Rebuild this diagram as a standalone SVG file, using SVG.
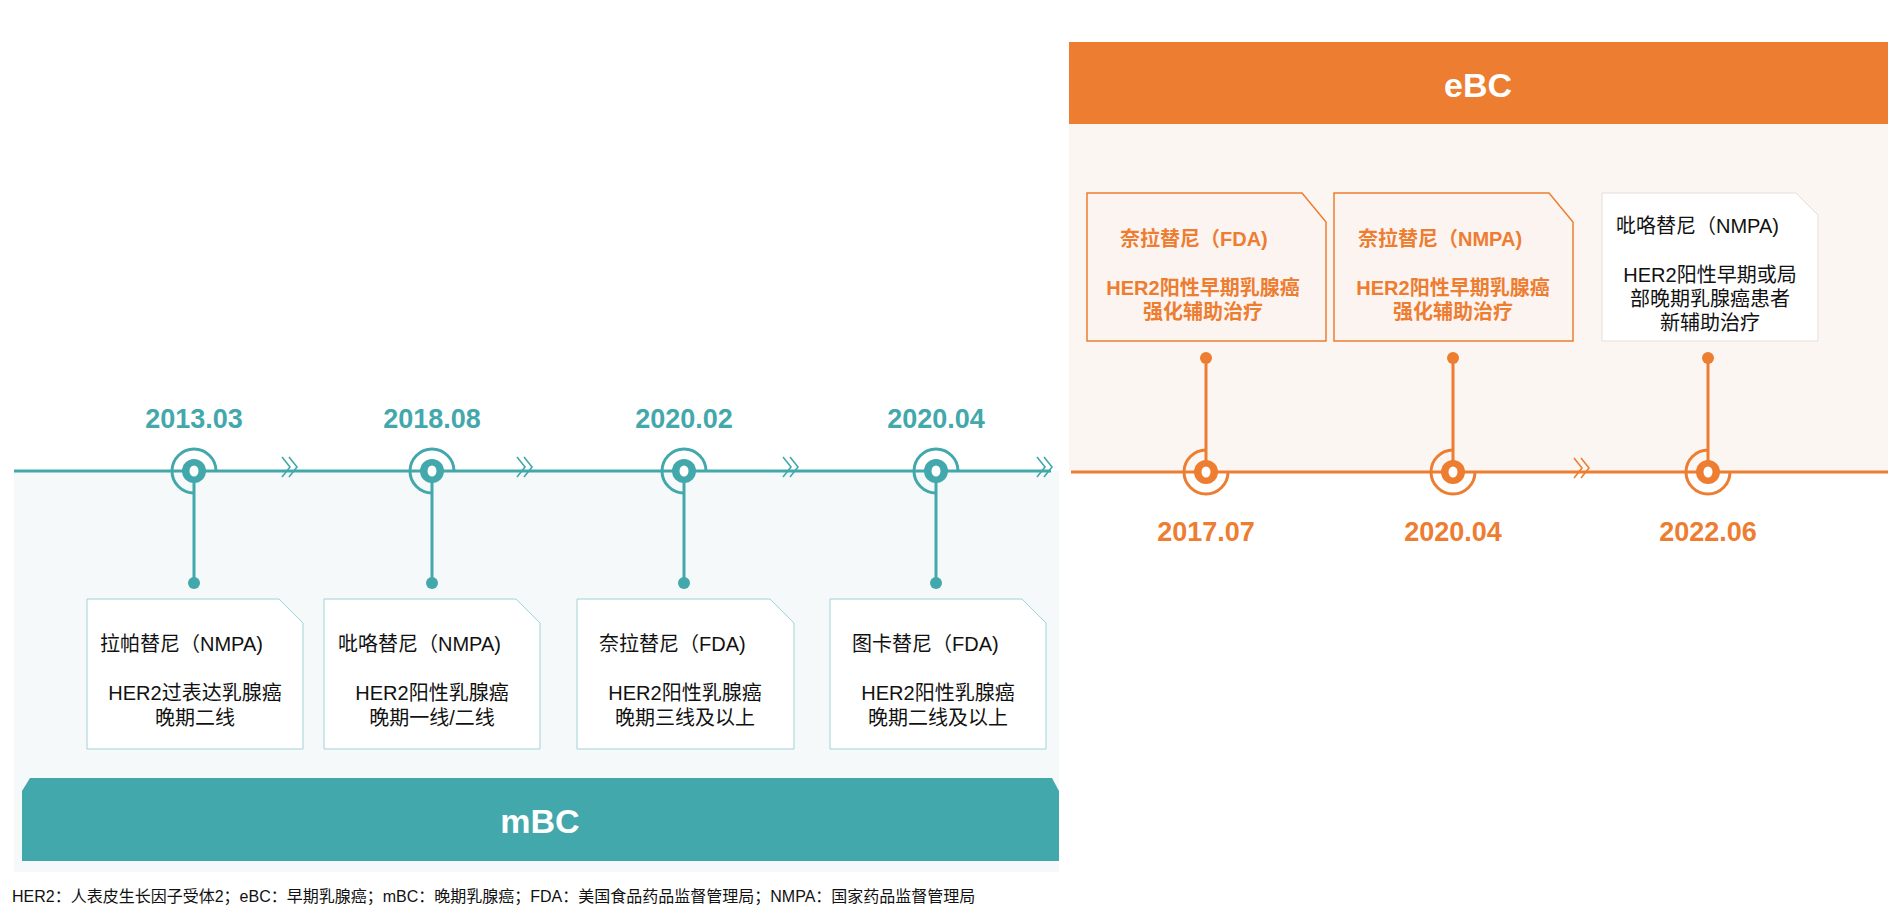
<svg xmlns="http://www.w3.org/2000/svg" width="1894" height="910" viewBox="0 0 1894 910">
<defs>
<style>
.t{font-family:"Liberation Sans","Noto Sans CJK SC",sans-serif}
.date-t{font-size:27px;font-weight:bold;text-anchor:middle}
.tl{fill:#42A8AC}.or{fill:#ED7D31}
.bx{font-size:20px;fill:#111;text-anchor:middle}
.bo{font-size:20px;font-weight:bold;fill:#ED7D31;text-anchor:middle}
.st{text-anchor:start}
.chev{fill:none;stroke-width:1.6}
</style>
<g id="nodeT"><path d="M22,0 A22,22 0 1 0 0,22" fill="none" stroke="#42A8AC" stroke-width="3"/><ellipse rx="12" ry="12" fill="#42A8AC"/><ellipse rx="4.5" ry="5.5" fill="#fff"/></g>
<g id="nodeO"><path d="M0,-22 A22,22 0 1 0 22,0" fill="none" stroke="#ED7D31" stroke-width="3"/><ellipse rx="12" ry="12" fill="#ED7D31"/><ellipse rx="4.5" ry="5.5" fill="#fff"/></g>
<g id="chT"><path d="M-8,-10 L0,0 L-8,10 M-1,-10 L7,0 L-1,10" class="chev" stroke="#42A8AC"/></g>
<g id="chO"><path d="M-8,-10 L0,0 L-8,10 M-1,-10 L7,0 L-1,10" class="chev" stroke="#ED7D31"/></g>
</defs>
<rect width="1894" height="910" fill="#fff"/>
<g id="mbc-panel">
<rect x="14" y="471" width="1045" height="401" fill="#F5F9FA"/>
<path d="M30,778 L1052,778 L1059,791 L1059,861 L22,861 L22,791 Z" fill="#42A8AC"/>
<text class="t" x="540" y="833" font-size="34" font-weight="bold" fill="#fff" text-anchor="middle">mBC</text>
</g>
<g id="ebc-panel">
<rect x="1069" y="124" width="819" height="347" fill="#FCF6F3"/>
<rect x="1069" y="42" width="819" height="82" fill="#ED7D31"/>
<text class="t" x="1478" y="97" font-size="34" font-weight="bold" fill="#fff" text-anchor="middle">eBC</text>
</g>
<g id="connectors">
<line x1="14" y1="471" x2="1051" y2="471" stroke="#42A8AC" stroke-width="3"/>
<line x1="1071" y1="472" x2="1888" y2="472" stroke="#ED7D31" stroke-width="3"/>
<g stroke="#42A8AC" stroke-width="3">
<line x1="194" y1="471" x2="194" y2="583"/><line x1="432" y1="471" x2="432" y2="583"/>
<line x1="684" y1="471" x2="684" y2="583"/><line x1="936" y1="471" x2="936" y2="583"/>
</g>
<g fill="#42A8AC"><circle cx="194" cy="583" r="6"/><circle cx="432" cy="583" r="6"/><circle cx="684" cy="583" r="6"/><circle cx="936" cy="583" r="6"/></g>
<g stroke="#ED7D31" stroke-width="3">
<line x1="1206" y1="358" x2="1206" y2="472"/><line x1="1453" y1="358" x2="1453" y2="472"/><line x1="1708" y1="358" x2="1708" y2="472"/>
</g>
<g fill="#ED7D31"><circle cx="1206" cy="358" r="6"/><circle cx="1453" cy="358" r="6"/><circle cx="1708" cy="358" r="6"/></g>
<use href="#chT" x="290" y="467"/><use href="#chT" x="525" y="467"/><use href="#chT" x="791" y="467"/><use href="#chT" x="1045" y="467"/>
<use href="#chO" x="1582" y="468"/>
</g>
<g id="n1"><use href="#nodeT" x="194" y="471"/><text class="t date-t tl" x="194" y="428">2013.03</text>
<path d="M87,599 L279,599 L303,623 L303,749 L87,749 Z" fill="#fff" stroke="#9FD3D6"/>
<text class="t bx st" x="100" y="651">拉帕替尼（NMPA)</text><text class="t bx" x="195" y="700">HER2过表达乳腺癌</text><text class="t bx" x="195" y="725">晚期二线</text></g>
<g id="n2"><use href="#nodeT" x="432" y="471"/><text class="t date-t tl" x="432" y="428">2018.08</text>
<path d="M324,599 L516,599 L540,623 L540,749 L324,749 Z" fill="#fff" stroke="#9FD3D6"/>
<text class="t bx st" x="338" y="651">吡咯替尼（NMPA)</text><text class="t bx" x="432" y="700">HER2阳性乳腺癌</text><text class="t bx" x="432" y="725">晚期一线/二线</text></g>
<g id="n3"><use href="#nodeT" x="684" y="471"/><text class="t date-t tl" x="684" y="428">2020.02</text>
<path d="M577,599 L770,599 L794,623 L794,749 L577,749 Z" fill="#fff" stroke="#9FD3D6"/>
<text class="t bx st" x="599" y="651">奈拉替尼（FDA)</text><text class="t bx" x="685" y="700">HER2阳性乳腺癌</text><text class="t bx" x="685" y="725">晚期三线及以上</text></g>
<g id="n4"><use href="#nodeT" x="936" y="471"/><text class="t date-t tl" x="936" y="428">2020.04</text>
<path d="M830,599 L1022,599 L1046,623 L1046,749 L830,749 Z" fill="#fff" stroke="#9FD3D6"/>
<text class="t bx st" x="852" y="651">图卡替尼（FDA)</text><text class="t bx" x="938" y="700">HER2阳性乳腺癌</text><text class="t bx" x="938" y="725">晚期二线及以上</text></g>
<g id="e1"><use href="#nodeO" x="1206" y="472"/><text class="t date-t or" x="1206" y="541">2017.07</text>
<path d="M1087,193 L1302,193 L1326,222 L1326,341 L1087,341 Z" fill="#FCF4F0" stroke="#ED7D31" stroke-width="1.5"/>
<text class="t bo st" x="1120" y="246">奈拉替尼（FDA)</text><text class="t bo" x="1203" y="295">HER2阳性早期乳腺癌</text><text class="t bo" x="1203" y="319">强化辅助治疗</text></g>
<g id="e2"><use href="#nodeO" x="1453" y="472"/><text class="t date-t or" x="1453" y="541">2020.04</text>
<path d="M1334,193 L1549,193 L1573,222 L1573,341 L1334,341 Z" fill="#FCF4F0" stroke="#ED7D31" stroke-width="1.5"/>
<text class="t bo st" x="1358" y="246">奈拉替尼（NMPA)</text><text class="t bo" x="1453" y="295">HER2阳性早期乳腺癌</text><text class="t bo" x="1453" y="319">强化辅助治疗</text></g>
<g id="e3"><use href="#nodeO" x="1708" y="472"/><text class="t date-t or" x="1708" y="541">2022.06</text>
<path d="M1602,193 L1796,193 L1818,215 L1818,341 L1602,341 Z" fill="#fff" stroke="#E6DDD8"/>
<text class="t bx st" x="1616" y="233">吡咯替尼（NMPA)</text><text class="t bx" x="1710" y="282">HER2阳性早期或局</text><text class="t bx" x="1710" y="306">部晚期乳腺癌患者</text><text class="t bx" x="1710" y="330">新辅助治疗</text></g>
<text class="t" x="12" y="902" font-size="16" fill="#111">HER2：人表皮生长因子受体2；eBC：早期乳腺癌；mBC：晚期乳腺癌；FDA：美国食品药品监督管理局；NMPA：国家药品监督管理局</text>
</svg>
